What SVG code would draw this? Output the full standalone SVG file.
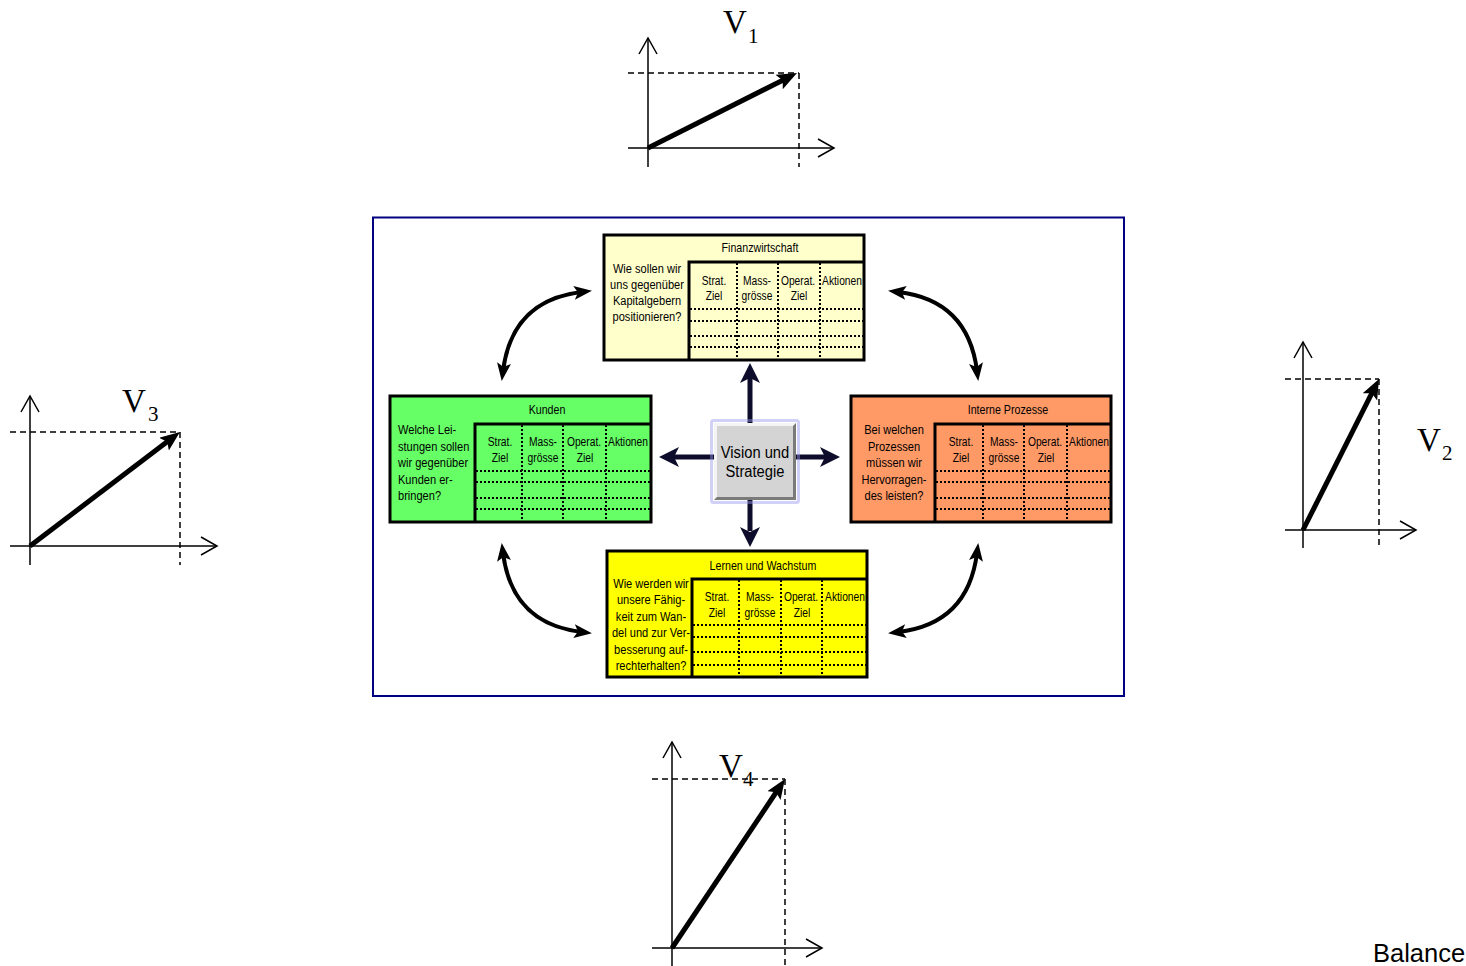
<svg xmlns="http://www.w3.org/2000/svg" width="1466" height="966" viewBox="0 0 1466 966">
<style>
.n{font-family:"Liberation Sans",Arial,sans-serif;fill:#000}
.ti{font-size:13px;text-anchor:middle}
.hd{font-size:12.5px;text-anchor:middle}
.q{font-size:13.5px}
.qc{text-anchor:middle}
.box{stroke:#000;stroke-width:3}
.tab{fill:none;stroke:#000;stroke-width:3}
.dot{stroke:#000;stroke-width:2;stroke-dasharray:2 2;fill:none}
.ax{stroke:#000;stroke-width:1.5;fill:none}
.dash{stroke:#000;stroke-width:1.5;stroke-dasharray:6 4;fill:none}
.vec{stroke:#000;stroke-width:5;fill:none}
.cur{stroke:#000;stroke-width:4;fill:none;marker-start:url(#ch);marker-end:url(#ch)}
.v{font-family:"Liberation Serif","Times New Roman",serif;fill:#000}
.ca{fill:#0D0D2B}
</style>
<defs>
<marker id="vh" markerWidth="22" markerHeight="18" refX="8" refY="8" orient="auto" markerUnits="userSpaceOnUse"><path d="M0,0 L20,8 L0,16 L4,8 z" fill="#000"/></marker>
<marker id="ch" markerWidth="20" markerHeight="16" refX="8" refY="7" orient="auto-start-reverse" markerUnits="userSpaceOnUse"><path d="M0,0 L18,7 L0,14 L4,7 z" fill="#000"/></marker>
</defs>

<!-- Vector charts -->
<g id="v1">
<line class="ax" x1="648" y1="38" x2="648" y2="167"/>
<path class="ax" d="M639,54 L648,38 L657,54"/>
<line class="ax" x1="628" y1="148" x2="834" y2="148"/>
<path class="ax" d="M818,139 L834,148 L818,157"/>
<line class="dash" x1="628" y1="73" x2="799" y2="73"/>
<line class="dash" x1="799" y1="73" x2="799" y2="167"/>
<line class="vec" x1="648" y1="148" x2="786.3" y2="78.4" marker-end="url(#vh)"/>
<text class="v" x="723" y="33" font-size="33">V</text>
<text class="v" x="748" y="43" font-size="21">1</text>
</g>

<g id="v3">
<line class="ax" x1="30" y1="396" x2="30" y2="565"/>
<path class="ax" d="M21,412 L30,396 L39,412"/>
<line class="ax" x1="10" y1="546" x2="217" y2="546"/>
<path class="ax" d="M201,537 L217,546 L201,555"/>
<line class="dash" x1="10" y1="432" x2="180" y2="432"/>
<line class="dash" x1="180" y1="432" x2="180" y2="565"/>
<line class="vec" x1="30" y1="546" x2="170.4" y2="439.3" marker-end="url(#vh)"/>
<text class="v" x="122" y="412" font-size="33">V</text>
<text class="v" x="148" y="421" font-size="21">3</text>
</g>

<g id="v2">
<line class="ax" x1="1303" y1="342" x2="1303" y2="548"/>
<path class="ax" d="M1294,358 L1303,342 L1312,358"/>
<line class="ax" x1="1285" y1="530" x2="1416" y2="530"/>
<path class="ax" d="M1400,521 L1416,530 L1400,539"/>
<line class="dash" x1="1285" y1="379" x2="1379" y2="379"/>
<line class="dash" x1="1379" y1="379" x2="1379" y2="548"/>
<line class="vec" x1="1303" y1="530" x2="1373.6" y2="389.7" marker-end="url(#vh)"/>
<text class="v" x="1417" y="451" font-size="33">V</text>
<text class="v" x="1442" y="460" font-size="21">2</text>
</g>

<g id="v4">
<line class="ax" x1="672" y1="742" x2="672" y2="966"/>
<path class="ax" d="M663,758 L672,742 L681,758"/>
<line class="ax" x1="652" y1="948" x2="822" y2="948"/>
<path class="ax" d="M806,939 L822,948 L806,957"/>
<line class="dash" x1="652" y1="779" x2="785" y2="779"/>
<line class="dash" x1="785" y1="779" x2="785" y2="966"/>
<line class="vec" x1="672" y1="948" x2="778.3" y2="789" marker-end="url(#vh)"/>
<text class="v" x="719" y="777" font-size="33">V</text>
<text class="v" x="743" y="786" font-size="21">4</text>
</g>

<!-- Frame -->
<g id="frame">
<rect x="373" y="217.5" width="751" height="478.5" fill="#fff" stroke="#000080" stroke-width="2"/>
</g>

<!-- Connectors -->
<g id="connectors">
<path class="cur" d="M503,371 Q512,300 582,292"/>
<path class="cur" d="M503,371 Q512,300 582,292" transform="matrix(-1 0 0 1 1480 0)"/>
<path class="cur" d="M503,371 Q512,300 582,292" transform="matrix(1 0 0 -1 0 924)"/>
<path class="cur" d="M503,371 Q512,300 582,292" transform="matrix(-1 0 0 -1 1480 924)"/>
<rect class="ca" x="747.5" y="378" width="5" height="46"/>
<polygon class="ca" points="750,363 760,383 750,378 740,383"/>
<rect class="ca" x="747.5" y="499" width="5" height="32"/>
<polygon class="ca" points="750,547 760,527 750,532 740,527"/>
<rect class="ca" x="674" y="454.5" width="41" height="5"/>
<polygon class="ca" points="659,457 679,447 674,457 679,467"/>
<rect class="ca" x="795" y="454.5" width="31" height="5"/>
<polygon class="ca" points="840,457 820,447 825,457 820,467"/>
</g>

<!-- Vision -->
<g id="vision">
<rect x="711.5" y="420.5" width="87" height="82" rx="2" fill="none" stroke="#9A9AF0" stroke-width="3" opacity="0.45"/>
<rect x="714" y="423" width="82" height="77" fill="#D4D4D4"/>
<polygon points="714,423 796,423 793,426 717,426 717,497 714,500" fill="#F4F4F4"/>
<polygon points="796,423 796,500 714,500 717,497 793,497 793,426" fill="#7A7A7A"/>
<rect x="717" y="426" width="76" height="71" fill="#D4D4D4"/>
<g transform="scale(0.92,1)">
<text class="n" x="820.65" y="458" font-size="16" text-anchor="middle">Vision und</text>
<text class="n" x="820.65" y="477" font-size="16" text-anchor="middle">Strategie</text>
</g>
</g>

<!-- Finanzwirtschaft -->
<g id="finanz" transform="translate(604,235)">
<rect class="box" x="0" y="0" width="260" height="125" fill="#FFFFCC"/>
<path class="tab" d="M85,125 V27 H260"/>
<path class="dot" d="M133,28 V125 M174,28 V125 M216,28 V125 M86,74 H259 M86,86 H259 M86,101 H259 M86,112 H259"/>
<g transform="scale(0.82,1)">
<text class="n ti" x="190.24" y="17">Finanzwirtschaft</text>
<text class="n hd" x="134.15" y="50">Strat.</text><text class="n hd" x="134.15" y="65.5">Ziel</text>
<text class="n hd" x="186.59" y="50">Mass-</text><text class="n hd" x="186.59" y="65.5">grösse</text>
<text class="n hd" x="236.59" y="50">Operat.</text><text class="n hd" x="237.8" y="65.5">Ziel</text>
<text class="n hd" x="290.24" y="50">Aktionen</text>
<text class="n q qc" x="52.44" y="38.5">Wie sollen wir</text>
<text class="n q qc" x="52.44" y="54.5">uns gegenüber</text>
<text class="n q qc" x="52.44" y="70.5">Kapitalgebern</text>
<text class="n q qc" x="52.44" y="86.5">positionieren?</text>
</g>
</g>

<!-- Kunden -->
<g id="kunden" transform="translate(390,396)">
<rect class="box" x="0" y="0" width="261" height="126" fill="#66FF66"/>
<path class="tab" d="M85,126 V28 H261"/>
<path class="dot" d="M132,29 V126 M173,29 V126 M216,29 V126 M86,75 H260 M86,86 H260 M86,102 H260 M86,113 H260"/>
<g transform="scale(0.82,1)">
<text class="n ti" x="191.46" y="18">Kunden</text>
<text class="n hd" x="134.15" y="50.5">Strat.</text><text class="n hd" x="134.15" y="66">Ziel</text>
<text class="n hd" x="186.59" y="50.5">Mass-</text><text class="n hd" x="186.59" y="66">grösse</text>
<text class="n hd" x="236.59" y="50.5">Operat.</text><text class="n hd" x="237.8" y="66">Ziel</text>
<text class="n hd" x="290.24" y="50.5">Aktionen</text>
<text class="n q" x="9.76" y="38.5">Welche Lei-</text>
<text class="n q" x="9.76" y="55">stungen sollen</text>
<text class="n q" x="9.76" y="71.5">wir gegenüber</text>
<text class="n q" x="9.76" y="88">Kunden er-</text>
<text class="n q" x="9.76" y="104.5">bringen?</text>
</g>
</g>

<!-- Interne Prozesse -->
<g id="interne" transform="translate(851,396)">
<rect class="box" x="0" y="0" width="260" height="126" fill="#FF9966"/>
<path class="tab" d="M84,126 V28 H260"/>
<path class="dot" d="M132,29 V126 M173,29 V126 M216,29 V126 M85,75 H259 M85,86 H259 M85,102 H259 M85,113 H259"/>
<g transform="scale(0.82,1)">
<text class="n ti" x="191.46" y="18">Interne Prozesse</text>
<text class="n hd" x="134.15" y="50.5">Strat.</text><text class="n hd" x="134.15" y="66">Ziel</text>
<text class="n hd" x="186.59" y="50.5">Mass-</text><text class="n hd" x="186.59" y="66">grösse</text>
<text class="n hd" x="236.59" y="50.5">Operat.</text><text class="n hd" x="237.8" y="66">Ziel</text>
<text class="n hd" x="290.24" y="50.5">Aktionen</text>
<text class="n q qc" x="52.44" y="38.5">Bei welchen</text>
<text class="n q qc" x="52.44" y="55">Prozessen</text>
<text class="n q qc" x="52.44" y="71.5">müssen wir</text>
<text class="n q qc" x="52.44" y="88">Hervorragen-</text>
<text class="n q qc" x="52.44" y="104.5">des leisten?</text>
</g>
</g>

<!-- Lernen und Wachstum -->
<g id="lernen" transform="translate(607,551)">
<rect class="box" x="0" y="0" width="260" height="126" fill="#FFFF00"/>
<path class="tab" d="M85,126 V28 H260"/>
<path class="dot" d="M132,29 V126 M174,29 V126 M215,29 V126 M86,74 H259 M86,86 H259 M86,101 H259 M86,114 H259"/>
<g transform="scale(0.82,1)">
<text class="n ti" x="190.24" y="19">Lernen und Wachstum</text>
<text class="n hd" x="134.15" y="50.5">Strat.</text><text class="n hd" x="134.15" y="66">Ziel</text>
<text class="n hd" x="186.59" y="50.5">Mass-</text><text class="n hd" x="186.59" y="66">grösse</text>
<text class="n hd" x="236.59" y="50.5">Operat.</text><text class="n hd" x="237.8" y="66">Ziel</text>
<text class="n hd" x="290.24" y="50.5">Aktionen</text>
<text class="n q qc" x="53.66" y="37">Wie werden wir</text>
<text class="n q qc" x="53.66" y="53.4">unsere Fähig-</text>
<text class="n q qc" x="53.66" y="69.8">keit zum Wan-</text>
<text class="n q qc" x="53.66" y="86.2">del und zur Ver-</text>
<text class="n q qc" x="53.66" y="102.6">besserung auf-</text>
<text class="n q qc" x="53.66" y="119">rechterhalten?</text>
</g>
</g>

<g id="balance">
<text x="1373" y="962" font-family="'Liberation Sans',Arial,sans-serif" font-size="25.5" fill="#000">Balance</text>
</g>
</svg>
